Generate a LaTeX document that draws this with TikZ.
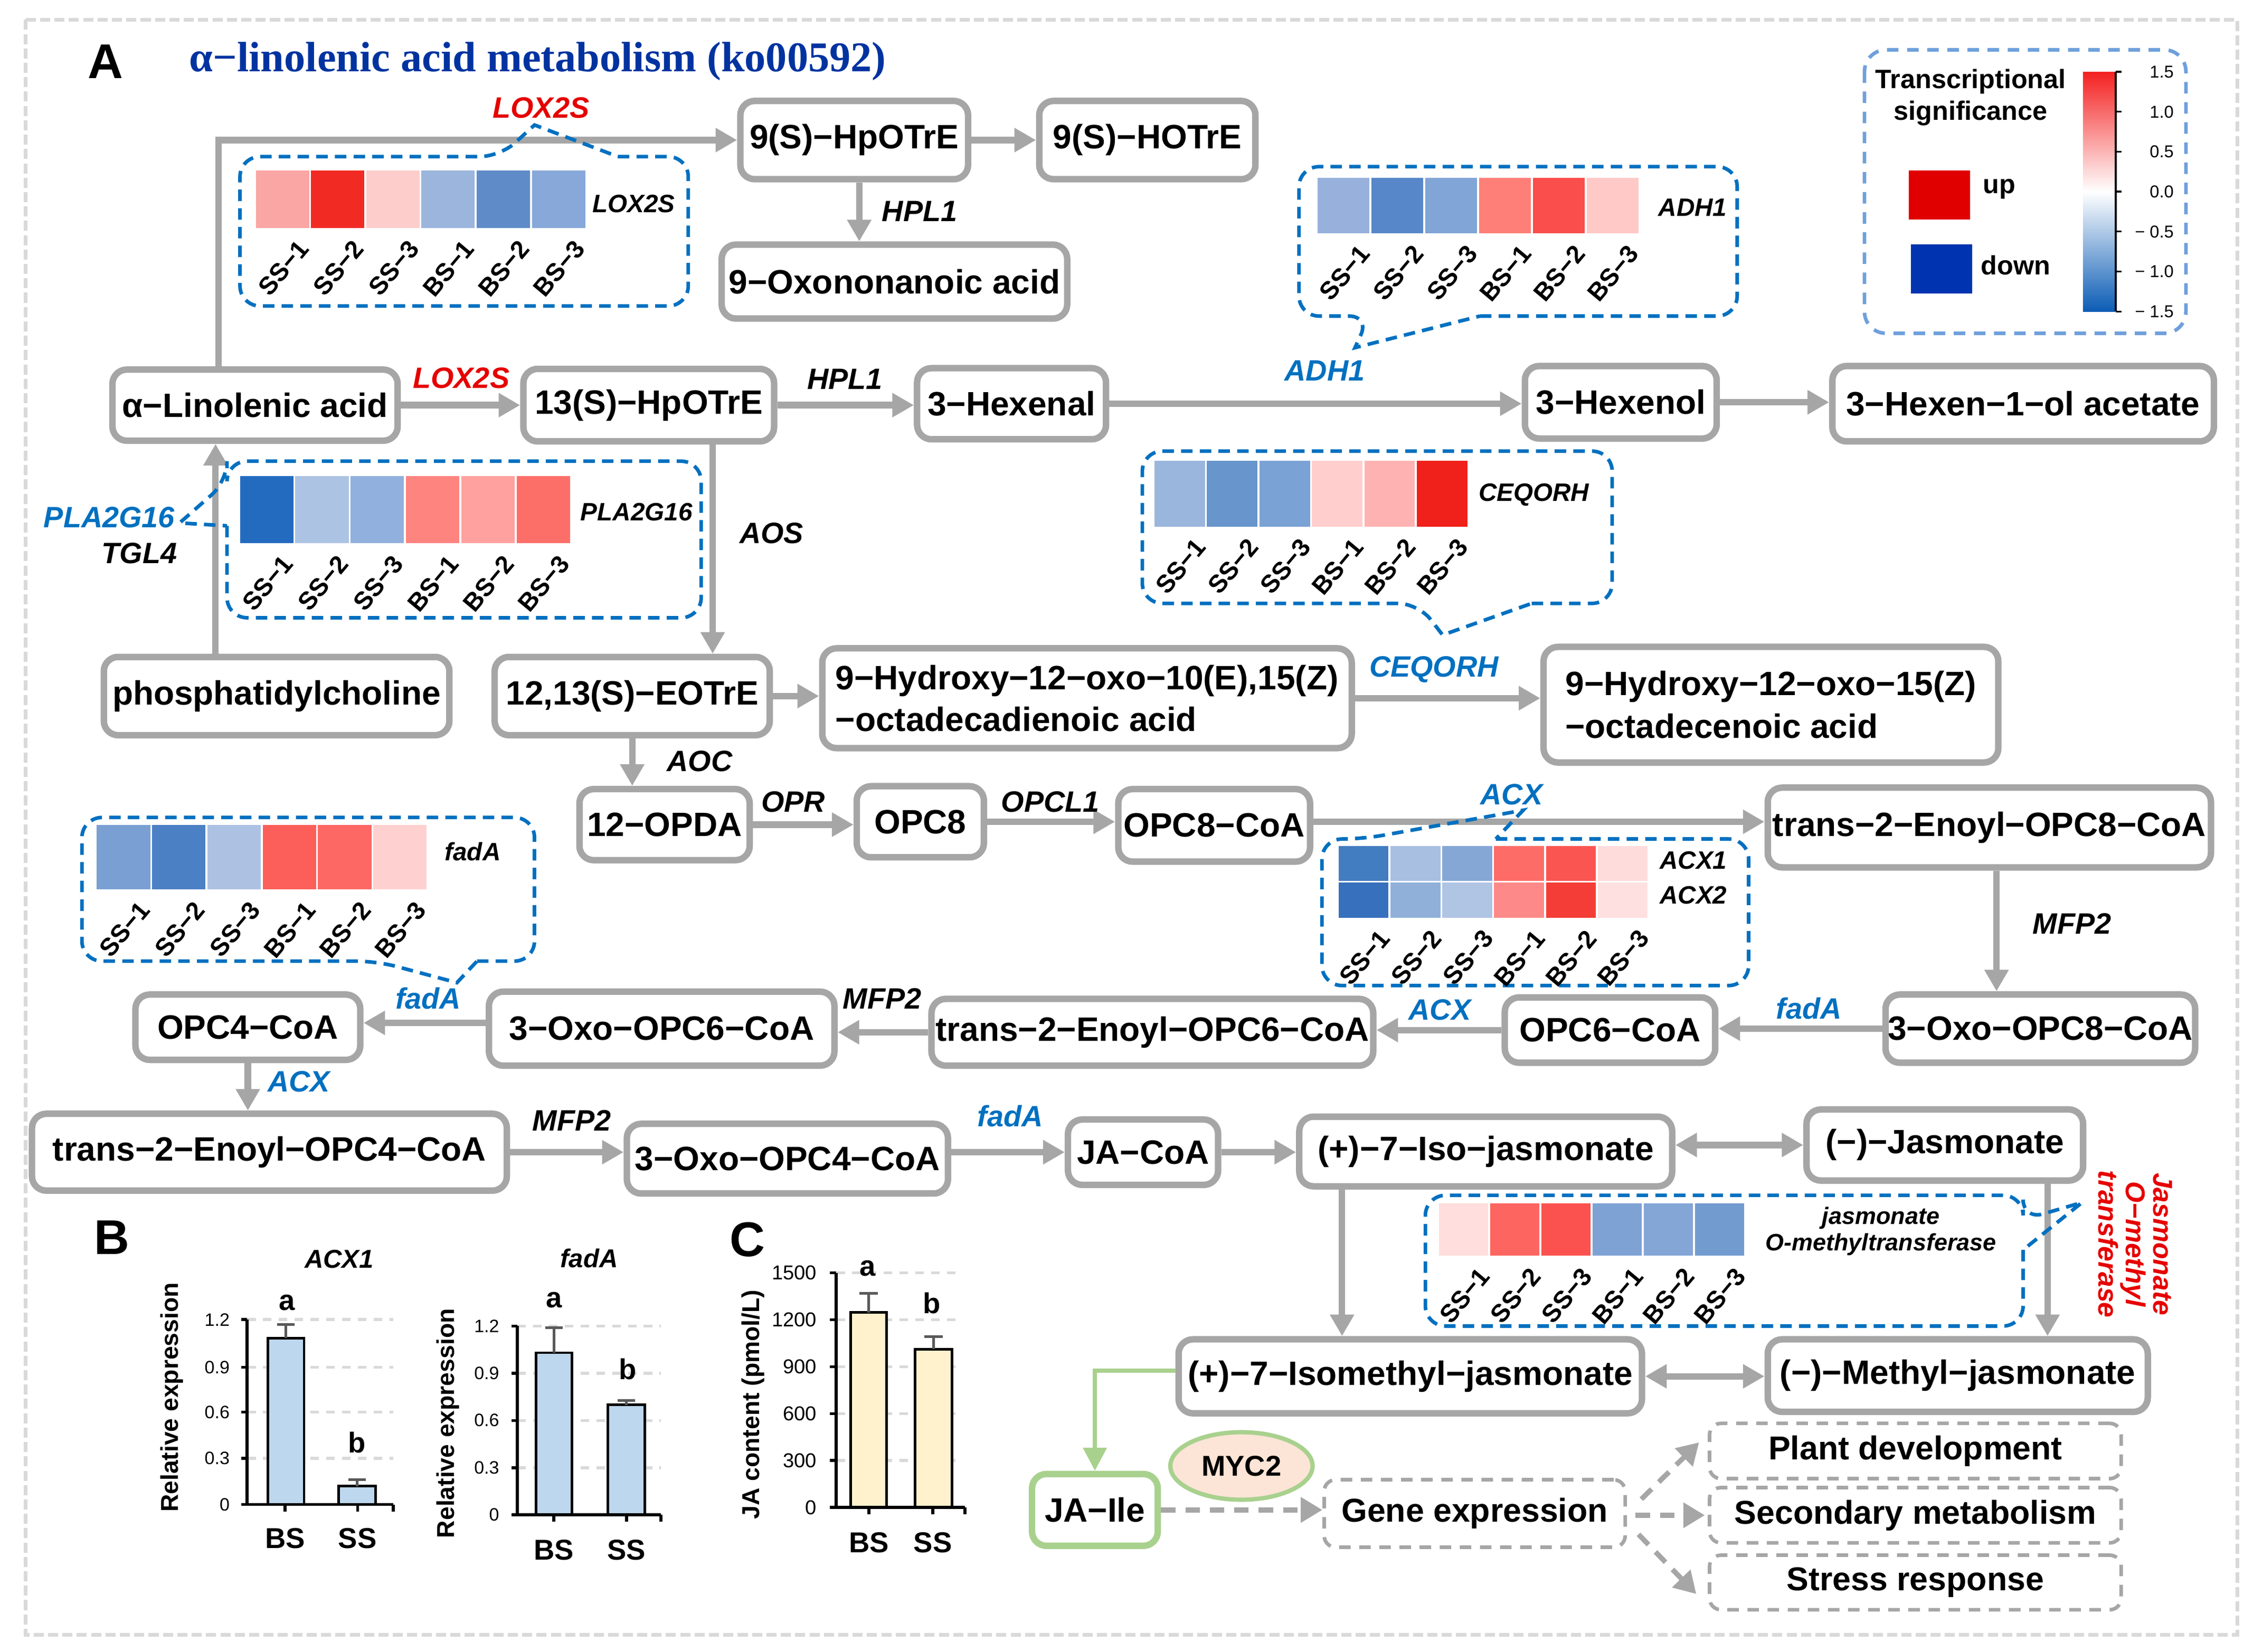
\documentclass[tikz,border=0pt]{standalone}
\usepackage{fontspec}
\setmainfont{Liberation Sans}
\newfontfamily\titlefont{Liberation Serif}
\usetikzlibrary{arrows.meta,shapes.geometric}
\definecolor{boxgray}{HTML}{A6A6A6}
\definecolor{genblue}{HTML}{0070C0}
\definecolor{genred}{HTML}{E60000}
\definecolor{titleblue}{HTML}{0033A0}
\definecolor{legblue}{HTML}{6FA0DC}
\definecolor{outerg}{HTML}{D9D9D9}
\definecolor{grn}{HTML}{A9D18E}
\definecolor{peach}{HTML}{FCE4D6}
\definecolor{barblue}{HTML}{BDD7EE}
\definecolor{baryellow}{HTML}{FFF2CC}
\definecolor{errgray}{HTML}{595959}
\definecolor{gridgray}{HTML}{D9D9D9}
\definecolor{upred}{HTML}{E00000}
\definecolor{downblue}{HTML}{0033B0}
\definecolor{cbred}{HTML}{F42020}
\definecolor{cbblue}{HTML}{0B5CB5}

\newcommand{\hmrow}[5]{%
  \foreach \hc [count=\i from 0] in {#5}{%
    \edef\hmtmp{\noexpand\definecolor{hmc}{HTML}{\hc}}\hmtmp
    \fill[hmc] ({#1+\i*#3},#2) rectangle ({#1+(\i+1)*#3-1.3},{#2+#4});}}
\newcommand{\smplabels}[4]{%
  \foreach \smt [count=\i from 0] in {SS−1,SS−2,SS−3,BS−1,BS−2,BS−3}{%
    \node[smp] (#1\i) at ({#2+(\i+0.5)*#3+14},{#4+11}) {\smt};}}

\begin{document}
\begin{tikzpicture}[x=1pt,y=-1pt,
  box/.style={draw=boxgray,line width=4.5pt,rounded corners=10pt,fill=white,inner sep=1pt,align=center,font=\fontsize{23.5}{29}\selectfont\bfseries},
  arr/.style={draw=boxgray,line width=4.5pt,-{Triangle[length=15pt,width=16pt]}},
  darr/.style={draw=boxgray,line width=4.5pt,{Triangle[length=15pt,width=16pt]}-{Triangle[length=15pt,width=16pt]}},
  garr/.style={draw=grn,line width=3pt,-{Triangle[length=16pt,width=16pt]}},
  dgarr/.style={draw=boxgray,line width=3.5pt,dash pattern=on 10pt off 7pt,-{Triangle[length=15pt,width=17pt]}},
  gl/.style={font=\fontsize{20.5}{22}\selectfont\bfseries\itshape,inner sep=0pt},
  glb/.style={gl,text=genblue},
  glr/.style={gl,text=genred},
  hml/.style={font=\fontsize{17.5}{19}\selectfont\bfseries\itshape,inner sep=0pt},
  smp/.style={font=\fontsize{17.5}{18}\selectfont\bfseries,rotate=50,anchor=east,inner sep=0pt},
  callout/.style={draw=genblue,line width=2.5pt,dash pattern=on 8pt off 5pt},
  dbox/.style={draw=boxgray,line width=2.5pt,dash pattern=on 8pt off 6pt,rounded corners=8pt,fill=white,inner sep=1pt,font=\fontsize{23}{27}\selectfont\bfseries},
  ticklab/.style={font=\fontsize{12.5}{14}\selectfont,inner sep=0pt,anchor=east},
  axlab/.style={font=\fontsize{17}{19}\selectfont\bfseries,inner sep=0pt,rotate=90},
  sig/.style={font=\fontsize{18.5}{20}\selectfont\bfseries,inner sep=0pt},
  catl/.style={font=\fontsize{20}{22}\selectfont\bfseries,inner sep=0pt},
  ptitle/.style={font=\fontsize{18}{20}\selectfont\bfseries\itshape,inner sep=0pt},
  panlab/.style={font=\fontsize{34}{36}\selectfont\bfseries,inner sep=0pt,anchor=base},
  barl/.style={draw=black,line width=1.8pt},
  errl/.style={draw=errgray,line width=1.8pt},
  gridl/.style={draw=gridgray,line width=2pt,dash pattern=on 6pt off 5pt},
  axisl/.style={draw=black,line width=2pt},
]
\path[use as bounding box] (0,0) rectangle (1568,1149.6);
\draw[draw=outerg,line width=2.5pt,dash pattern=on 7pt off 3pt] (17.7,13.7) rectangle (1557,1138);

% ---- titles
\node[panlab] (pA) at (73.5,54.5) {A};
\node[anchor=base west,inner sep=0pt,font=\titlefont\fontsize{29.5}{31}\selectfont\bfseries,text=titleblue] (title) at (131.6,49.6) {α−linolenic acid metabolism (ko00592)};

% ---- legend
\draw[draw=legblue,line width=2.5pt,dash pattern=on 8pt off 6pt,rounded corners=15pt] (1297.6,34.7) rectangle (1521.3,232);
\node[sig,anchor=base] (lt1) at (1371.5,61.7) {Transcriptional};
\node[sig,anchor=base] (lt2) at (1371.5,83.4) {significance};
\fill[upred] (1328.5,118.5) rectangle (1371,152.8);
\fill[downblue] (1330,170) rectangle (1372.4,204.3);
\node[sig,anchor=base west] (lup) at (1380,134.7) {up};
\node[sig,anchor=base west] (ldn) at (1378.5,191.4) {down};
\shade[top color=cbred,bottom color=white] (1449.6,50) rectangle (1472,133.4);
\shade[top color=white,bottom color=cbblue] (1449.6,133.4) rectangle (1472,216.8);
\draw[black,line width=1.2pt] (1472.5,50) -- (1472.5,216.8);
\foreach \v [count=\k from 0] in {1.5,1.0,0.5,0.0,− 0.5,− 1.0,− 1.5}{%
  \draw[black,line width=1.2pt] (1472.5,{50+\k*27.8}) -- (1476.5,{50+\k*27.8});
  \node[font=\fontsize{12}{13}\selectfont,anchor=east,inner sep=0pt] (cb\k) at (1513,{50+\k*27.8}) {\v};}

% ---- pathway nodes
\node[box,minimum width=158.5pt,minimum height=54.5pt] (hp9) at (594.5,97.5) {9(S)−HpOTrE};
\node[box,minimum width=150.5pt,minimum height=54.5pt] (hot9) at (798.5,97.5) {9(S)−HOTrE};
\node[box,minimum width=240.5pt,minimum height=51.5pt] (oxo9) at (622.5,196) {9−Oxononanoic acid};
\node[box,minimum width=198.5pt,minimum height=49.5pt] (alin) at (177.5,282) {α−Linolenic acid};
\node[box,minimum width=174.5pt,minimum height=50.5pt] (hp13) at (451.5,282) {13(S)−HpOTrE};
\node[box,minimum width=131.5pt,minimum height=49.5pt] (hxal) at (704,281) {3−Hexenal};
\node[box,minimum width=133.5pt,minimum height=50.5pt] (hxol) at (1128,280) {3−Hexenol};
\node[box,minimum width=265.5pt,minimum height=52.5pt] (hxac) at (1408,281) {3−Hexen−1−ol acetate};
\node[box,minimum width=240.5pt,minimum height=54.5pt] (pc) at (192.5,484.5) {phosphatidylcholine};
\node[box,minimum width=191.5pt,minimum height=54.5pt] (eot) at (440,484.5) {12,13(S)−EOTrE};
\node[box,minimum width=368.5pt,minimum height=69.5pt,align=left] (hod) at (756.5,486) {9−Hydroxy−12−oxo−10(E),15(Z)\\−octadecadienoic acid};
\node[box,minimum width=316.5pt,minimum height=80.5pt,align=left,font=\fontsize{23.5}{30}\selectfont\bfseries] (hoe) at (1232.5,490.5) {9−Hydroxy−12−oxo−15(Z)\\−octadecenoic acid};
\node[box,minimum width=118.5pt,minimum height=49.5pt] (opda) at (462.5,574) {12−OPDA};
\node[box,minimum width=88.5pt,minimum height=49.5pt] (opc8) at (640.5,572) {OPC8};
\node[box,minimum width=133.5pt,minimum height=50.5pt] (c8) at (845,574.5) {OPC8−CoA};
\node[box,minimum width=308.5pt,minimum height=55.5pt] (en8) at (1384.5,576) {trans−2−Enoyl−OPC8−CoA};
\node[box,minimum width=215.5pt,minimum height=47.5pt] (ox8) at (1420,716) {3−Oxo−OPC8−CoA};
\node[box,minimum width=146.5pt,minimum height=45.5pt] (c6) at (1120.5,717) {OPC6−CoA};
\node[box,minimum width=307.5pt,minimum height=46.5pt] (en6) at (802,718.5) {trans−2−Enoyl−OPC6−CoA};
\node[box,minimum width=240.5pt,minimum height=51.5pt] (ox6) at (460.5,716) {3−Oxo−OPC6−CoA};
\node[box,minimum width=156.5pt,minimum height=45.5pt] (c4) at (172.5,715) {OPC4−CoA};
\node[box,minimum width=330.5pt,minimum height=53.5pt] (en4) at (187.5,802) {trans−2−Enoyl−OPC4−CoA};
\node[box,minimum width=223.5pt,minimum height=48.5pt] (ox4) at (548,806.5) {3−Oxo−OPC4−CoA};
\node[box,minimum width=104.5pt,minimum height=45.5pt] (jacoa) at (795.5,802) {JA−CoA};
\node[box,minimum width=259.5pt,minimum height=48.5pt] (iso) at (1034,801.5) {(+)−7−Iso−jasmonate};
\node[box,minimum width=192.5pt,minimum height=49.5pt] (jas) at (1353.5,797) {(−)−Jasmonate};
\node[box,minimum width=322.5pt,minimum height=51.5pt] (isome) at (981.5,958) {(+)−7−Isomethyl−jasmonate};
\node[box,minimum width=264.5pt,minimum height=50.5pt] (mej) at (1362.5,957.5) {(−)−Methyl−jasmonate};
\node[box,draw=grn,minimum width=87.5pt,minimum height=50pt] (jaile) at (762,1051) {JA−Ile};
\node[ellipse,draw=grn,fill=peach,line width=3pt,minimum width=99pt,minimum height=47pt,inner sep=0pt,font=\fontsize{20}{22}\selectfont\bfseries] (myc) at (864,1020.4) {MYC2};
\node[dbox,minimum width=209.5pt,minimum height=47pt] (gene) at (1026.3,1053.5) {Gene expression};
\node[dbox,minimum width=286.5pt,minimum height=38.5pt] (pd) at (1333,1010) {Plant development};
\node[dbox,minimum width=286.5pt,minimum height=38.5pt] (sm) at (1333,1054.7) {Secondary metabolism};
\node[dbox,minimum width=286.5pt,minimum height=38pt] (sr) at (1333,1101.5) {Stress response};

% ---- connectors
\draw[arr] ([xshift=-25.5pt]alin.north) |- (hp9.west);
\draw[arr] (hp9.east) -- (hp9.east -| hot9.west);
\draw[arr] ([xshift=3.5pt]hp9.south) -- ([xshift=3.5pt]hp9.south |- oxo9.north);
\draw[arr] (alin.east) -- (alin.east -| hp13.west);
\draw[arr] (hp13.east) -- (hp13.east -| hxal.west);
\draw[arr] (hxal.east) -- (hxal.east -| hxol.west);
\draw[arr] (hxol.east) -- (hxol.east -| hxac.west);
\draw[arr] ([xshift=-42.5pt]pc.north) -- ([xshift=-42.5pt]pc.north |- alin.south);
\draw[arr] ([xshift=44.5pt]hp13.south) -- ([xshift=44.5pt]hp13.south |- eot.north);
\draw[arr] (eot.east) -- (eot.east -| hod.west);
\draw[arr] (hod.east) -- (hod.east -| hoe.west);
\draw[arr] (eot.south) -- (eot.south |- opda.north);
\draw[arr] (opda.east) -- (opda.east -| opc8.west);
\draw[arr] (opc8.east) -- (opc8.east -| c8.west);
\draw[arr] ([yshift=2.5pt]c8.east) -- ([yshift=2.5pt]c8.east -| en8.west);
\draw[arr] ([xshift=5pt]en8.south) -- ([xshift=5pt]en8.south |- ox8.north);
\draw[arr] (ox8.west) -- (ox8.west -| c6.east);
\draw[arr] (c6.west) -- (c6.west -| en6.east);
\draw[arr] (en6.west) -- (en6.west -| ox6.east);
\draw[arr] ([yshift=4pt]ox6.west) -- ([yshift=4pt]ox6.west -| c4.east);
\draw[arr] (c4.south) -- (c4.south |- en4.north);
\draw[arr] (en4.east) -- (en4.east -| ox4.west);
\draw[arr] (jacoa.west -| ox4.east) -- (jacoa.west);
\draw[arr] (jacoa.east) -- (jacoa.east -| iso.west);
\draw[darr] (jas.west -| iso.east) -- (jas.west);
\draw[arr] ([xshift=-100pt]iso.south) -- ([xshift=-100pt]iso.south |- isome.north);
\draw[arr] ([xshift=71.5pt]jas.south) -- ([xshift=71.5pt]jas.south |- mej.north);
\draw[darr] (isome.east) -- (isome.east -| mej.west);
\draw[garr] ([yshift=4pt]isome.west) -| (jaile.north);
\draw[dgarr] (jaile.east) -- (jaile.east -| gene.west);
\draw[dgarr] ([xshift=10pt,yshift=10pt]gene.east) -- ([xshift=-6pt,yshift=6pt]pd.west);
\draw[dgarr] ([xshift=6pt]gene.east |- sm.west) -- ([xshift=-2pt]sm.west);
\draw[dgarr] ([xshift=8pt,yshift=-14.5pt]gene.east) -- ([xshift=-8pt,yshift=-8pt]sr.west);

% ---- enzyme labels
\node[glr] (lx1) at (376.5,75) {LOX2S};
\node[gl] (hpl1a) at (640,147) {HPL1};
\node[glr] (lx2) at (321,263) {LOX2S};
\node[gl] (hpl1b) at (588,264) {HPL1};
\node[glb] (adh) at (922,258) {ADH1};
\node[glb] (pla) at (76,360) {PLA2G16};
\node[gl] (tgl) at (97,385) {TGL4};
\node[gl] (aos) at (537,371) {AOS};
\node[glb] (ceq) at (998,466) {CEQORH};
\node[gl] (aoc) at (487,530) {AOC};
\node[gl] (opr) at (552,558) {OPR};
\node[gl] (opcl) at (731,558) {OPCL1};
\node[glb] (acxa) at (1052,553) {ACX};
\node[gl] (mfpa) at (1442,643) {MFP2};
\node[glb] (fada) at (1259,702) {fadA};
\node[glb] (acxb) at (1002,703) {ACX};
\node[gl] (mfpb) at (614,695) {MFP2};
\node[glb] (fadb) at (298,695) {fadA};
\node[glb] (acxc) at (208,753) {ACX};
\node[gl] (mfpc) at (398,780) {MFP2};
\node[glb] (fadc) at (703,777) {fadA};
\node[font=\fontsize{19}{19}\selectfont\bfseries\itshape,text=genred,rotate=-90,align=center,inner sep=0pt] (jmtlab) at (1486,866) {Jasmonate\\O−methyl\\transferase};

% ---- heatmap callouts
\draw[callout] (430,109) [rounded corners=14pt] -- (479,109) -- (479,213) -- (167,213) -- (167,109) -- (348,109) [sharp corners] -- (372,87) -- cycle;
\draw[callout] (1030,220) [rounded corners=14pt] -- (1209,220) -- (1209,116) -- (904,116) -- (904,220) -- (953,220) [sharp corners] -- (943,242) -- cycle;
\draw[callout] (158,366) [rounded corners=14pt] -- (158,430) -- (488,430) -- (488,321) -- (158,321) -- (158,335) [sharp corners] -- (125,364) -- cycle;
\draw[callout] (1066,420) [rounded corners=14pt] -- (1122,420) -- (1122,314) -- (795,314) -- (795,420) -- (987,420) [sharp corners] -- (1004,442) -- cycle;
\draw[callout] (332,669) [rounded corners=14pt] -- (372,669) -- (372,569) -- (57,569) -- (57,669) -- (262,669) [sharp corners] -- (318,684) -- cycle;
\draw[callout] (1041,584) [rounded corners=14pt] -- (1217,584) -- (1217,686) -- (920,686) -- (920,584) -- (948,584) [sharp corners] -- (1060,564) -- cycle;
\draw[callout] (1408,870) [rounded corners=14pt] -- (1408,923) -- (992,923) -- (992,832) -- (1408,832) -- (1408,849) [sharp corners] -- (1449,837) -- cycle;

% ---- heatmaps
\hmrow{178}{118.7}{38.43}{40}{F9A6A4,F22A24,FDCDCC,9BB5DD,5F8CC8,87A8D8}
\smplabels{sa}{178}{38.43}{158.7}
\node[hml] (hl1) at (441,142) {LOX2S};
\hmrow{917}{123.7}{37.45}{38.6}{97B1DC,5787C8,80A5D6,FE7F77,F94E4B,FEC9C6}
\smplabels{sb}{917}{37.45}{162.3}
\node[hml] (hl2) at (1178,144.5) {ADH1};
\hmrow{167}{331.3}{38.5}{46.7}{236BBF,ADC3E3,92B0DD,FE8480,FFA19E,FC6F69}
\smplabels{sc}{167}{38.5}{378}
\node[hml] (hl3) at (443,356.5) {PLA2G16};
\hmrow{803.4}{320.8}{36.53}{45.7}{9BB6DD,6895CB,7AA2D4,FFCECD,FEB3B2,F0201A}
\smplabels{sd}{803.4}{36.53}{366.5}
\node[hml] (hl4) at (1067.5,344.6) {CEQORH};
\hmrow{67.4}{574.3}{38.48}{44.7}{7AA0D3,4B80C4,ADC2E3,FC5F5A,FD6865,FFD0D0}
\smplabels{se}{67.4}{38.48}{619}
\node[hml] (hl5) at (329,592.7) {fadA};
\hmrow{931.6}{588.8}{36.07}{24.2}{437DC1,A8BFE1,84A7D6,FE6C68,FB5552,FFDCDC}
\hmrow{931.6}{614.3}{36.07}{24.5}{3770BC,90B0DA,B0C4E4,FD8A88,F43D37,FEE0E0}
\smplabels{sf}{931.6}{36.07}{638.8}
\node[hml] (hl6) at (1178.5,599) {ACX1};
\node[hml] (hl7) at (1178.5,623) {ACX2};
\hmrow{1001.5}{837.8}{35.6}{36.2}{FFDEDD,FD6561,FB524F,7FA2D5,83A6D6,729BD0}
\smplabels{sg}{1001.5}{35.6}{874}
\node[hml,font=\fontsize{16.5}{18.5}\selectfont\bfseries\itshape,align=center] (hl8) at (1309,857) {jasmonate\\O-methyltransferase};

% ---- panel B : ACX1
\node[panlab] (pB) at (78,873) {B};
\node[ptitle] (t1) at (236,876.5) {ACX1};
\foreach \yy in {918.5,951.7,982.9,1015.1}{\draw[gridl] (172,\yy) -- (273.7,\yy);}
\draw[barl,fill=barblue] (186.5,1047.3) rectangle (211.6,931.4);
\draw[barl,fill=barblue] (235.7,1047.3) rectangle (261.4,1034.4);
\draw[errl] (199,931.4) -- (199,921.8) (193,921.8) -- (205,921.8);
\draw[errl] (248.5,1034.4) -- (248.5,1030.1) (242.5,1030.1) -- (254.5,1030.1);
\draw[axisl] (172,918.5) -- (172,1047.3) -- (273.7,1047.3);
\foreach \yy/\lab [count=\k] in {918.5/1.2,951.7/0.9,982.9/0.6,1015.1/0.3,1047.3/0}{%
  \draw[axisl] (168,\yy) -- (172,\yy);
  \node[ticklab] (ta\k) at (160,\yy) {\lab};}
\foreach \xx in {198.4,248.8,273.7}{\draw[axisl] (\xx,1047.3) -- (\xx,1052);}
\node[catl] (ba) at (199.7,906.8) {a};
\node[catl] (bb) at (248.4,1004) {b};
\node[axlab] (yl1) at (119.5,972.6) {Relative expression};
\node[catl] (x1a) at (198.4,1071) {BS};
\node[catl] (x1b) at (248.8,1071) {SS};

% ---- panel B : fadA
\node[ptitle] (t2) at (410,876) {fadA};
\foreach \yy in {923,955.9,988.7,1021.6}{\draw[gridl] (360,\yy) -- (460,\yy);}
\draw[barl,fill=barblue] (373,1054.4) rectangle (398,941.6);
\draw[barl,fill=barblue] (423,1054.4) rectangle (448.6,977.8);
\draw[errl] (385.5,941.6) -- (385.5,924.1) (379.5,924.1) -- (391.5,924.1);
\draw[errl] (435.8,977.8) -- (435.8,975) (429.8,975) -- (441.8,975);
\draw[axisl] (360,923) -- (360,1054.4) -- (460,1054.4);
\foreach \yy/\lab [count=\k] in {923/1.2,955.9/0.9,988.7/0.6,1021.6/0.3,1054.4/0}{%
  \draw[axisl] (356,\yy) -- (360,\yy);
  \node[ticklab] (tb\k) at (347.6,\yy) {\lab};}
\foreach \xx in {385.4,436,460}{\draw[axisl] (\xx,1054.4) -- (\xx,1059);}
\node[catl] (fa) at (385.7,905) {a};
\node[catl] (fb) at (436.8,953) {b};
\node[axlab] (yl2) at (311.6,990.7) {Relative expression};
\node[catl] (x2a) at (385.4,1079) {BS};
\node[catl] (x2b) at (436,1079) {SS};

% ---- panel C
\node[panlab] (pC) at (520,874.5) {C};
\foreach \yy in {886,918.7,951.3,984,1016.6}{\draw[gridl] (582,\yy) -- (666,\yy);}
\draw[barl,fill=baryellow] (592,1049.3) rectangle (617,913.5);
\draw[barl,fill=baryellow] (636.9,1049.3) rectangle (662.6,939.2);
\draw[errl] (604.5,913.5) -- (604.5,900.2) (598,900.2) -- (611,900.2);
\draw[errl] (649.7,939.2) -- (649.7,930.4) (643.2,930.4) -- (656.2,930.4);
\draw[axisl] (582,886) -- (582,1049.3) -- (671.6,1049.3);
\foreach \yy/\lab [count=\k] in {886/1500,918.7/1200,951.3/900,984/600,1016.6/300,1049.3/0}{%
  \draw[axisl] (577.5,\yy) -- (582,\yy);
  \node[ticklab,font=\fontsize{14}{16}\selectfont] (tc\k) at (568.6,\yy) {\lab};}
\foreach \xx in {604.7,649.2,671.6}{\draw[axisl] (\xx,1049.3) -- (\xx,1054);}
\node[catl] (ca) at (604,883) {a};
\node[catl] (cb) at (648.5,907) {b};
\node[axlab] (yl3) at (524,977.6) {JA content (pmol/L)};
\node[catl] (x3a) at (604.7,1073.8) {BS};
\node[catl] (x3b) at (649.2,1073.8) {SS};
\end{tikzpicture}
\end{document}
